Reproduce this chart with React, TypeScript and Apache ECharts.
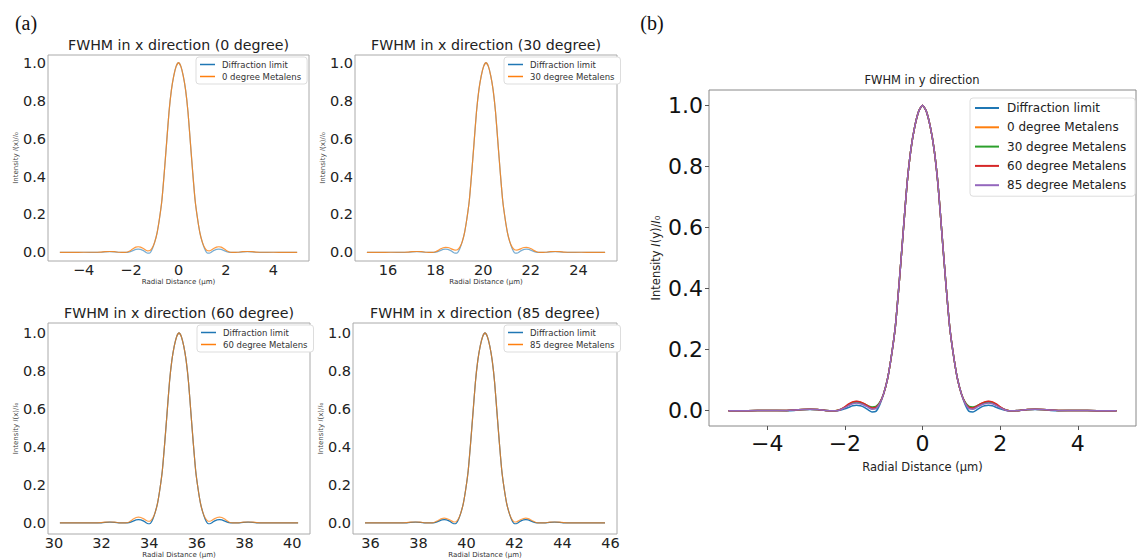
import React, { useEffect, useRef } from "react";
import * as echarts from "echarts";

// radial offsets (µm) relative to each focal spot centre
const dx = [
  -5, -4.5, -4, -3.5, -3.3, -3.1, -2.9, -2.7, -2.5, -2.3,
  -2.2, -2.1, -2.0, -1.9, -1.8, -1.7, -1.6, -1.5, -1.4, -1.3, -1.2, -1.1,
  -1.0, -0.9, -0.8, -0.7, -0.6, -0.5, -0.4, -0.3, -0.2, -0.1, 0, 0.1, 0.2, 0.3, 0.4, 0.5, 0.6, 0.7, 0.8, 0.9, 1.0,
  1.1, 1.2, 1.3, 1.4, 1.5, 1.6, 1.7, 1.8, 1.9, 2.0, 2.1, 2.2,
  2.3, 2.5, 2.7, 2.9, 3.1, 3.3, 3.5, 4, 4.5, 5,
];

const diffractionLimit = [
  0, 0, 0.001, 0, 0.001, 0.003, 0.004, 0.003, 0.001, 0,
  0, 0.002, 0.006, 0.011, 0.016, 0.018, 0.016, 0.011, 0.003, -0.004, -0.002, 0.02,
  0.056, 0.105, 0.18, 0.275, 0.42, 0.58, 0.74, 0.855, 0.93, 0.98, 1.0, 0.98, 0.93, 0.855, 0.74, 0.58, 0.42, 0.275, 0.18, 0.105, 0.056,
  0.02, -0.002, -0.004, 0.003, 0.011, 0.016, 0.018, 0.016, 0.011, 0.006, 0.002, 0,
  0, 0.001, 0.003, 0.004, 0.003, 0.001, 0, 0.001, 0, 0,
];

const metalens0 = [
  0, 0, 0.001, 0.001, 0.002, 0.004, 0.005, 0.004, 0.001, 0,
  0.001, 0.005, 0.012, 0.021, 0.028, 0.03, 0.028, 0.022, 0.014, 0.008, 0.01, 0.026,
  0.056, 0.105, 0.18, 0.275, 0.42, 0.58, 0.74, 0.855, 0.93, 0.98, 1.0, 0.98, 0.93, 0.855, 0.74, 0.58, 0.42, 0.275, 0.18, 0.105, 0.056,
  0.026, 0.01, 0.008, 0.014, 0.022, 0.028, 0.03, 0.028, 0.021, 0.012, 0.005, 0.001,
  0, 0.001, 0.004, 0.005, 0.004, 0.002, 0.001, 0.001, 0, 0,
];

const metalens30 = [
  0, 0, 0.001, 0.001, 0.002, 0.004, 0.005, 0.004, 0.001, 0,
  0.001, 0.005, 0.011, 0.019, 0.025, 0.027, 0.026, 0.022, 0.016, 0.012, 0.014, 0.028,
  0.056, 0.105, 0.18, 0.275, 0.42, 0.58, 0.74, 0.855, 0.93, 0.98, 1.0, 0.98, 0.93, 0.855, 0.74, 0.58, 0.42, 0.275, 0.18, 0.105, 0.056,
  0.028, 0.014, 0.012, 0.016, 0.022, 0.026, 0.027, 0.025, 0.019, 0.011, 0.005, 0.001,
  0, 0.001, 0.004, 0.005, 0.004, 0.002, 0.001, 0.001, 0, 0,
];

const metalens60 = [
  0, 0, 0.001, 0.001, 0.002, 0.004, 0.005, 0.004, 0.001, 0,
  0.001, 0.005, 0.013, 0.022, 0.029, 0.031, 0.029, 0.023, 0.015, 0.009, 0.011, 0.026,
  0.056, 0.105, 0.18, 0.275, 0.42, 0.58, 0.74, 0.855, 0.93, 0.98, 1.0, 0.98, 0.93, 0.855, 0.74, 0.58, 0.42, 0.275, 0.18, 0.105, 0.056,
  0.026, 0.011, 0.009, 0.015, 0.023, 0.029, 0.031, 0.029, 0.022, 0.013, 0.005, 0.001,
  0, 0.001, 0.004, 0.005, 0.004, 0.002, 0.001, 0.001, 0, 0,
];

const metalens85 = [
  0, 0, 0.001, 0.001, 0.002, 0.004, 0.005, 0.004, 0.001, 0,
  0, 0.004, 0.01, 0.017, 0.023, 0.025, 0.023, 0.018, 0.011, 0.005, 0.007, 0.024,
  0.056, 0.105, 0.18, 0.275, 0.42, 0.58, 0.74, 0.855, 0.93, 0.98, 1.0, 0.98, 0.93, 0.855, 0.74, 0.58, 0.42, 0.275, 0.18, 0.105, 0.056,
  0.024, 0.007, 0.005, 0.011, 0.018, 0.023, 0.025, 0.023, 0.017, 0.01, 0.004, 0,
  0, 0.001, 0.004, 0.005, 0.004, 0.002, 0.001, 0.001, 0, 0,
];

// focal spot centres for panel (a)
const centers = [0, 20.12, 35.25, 40.77];
const angles = ["0", "30", "60", "85"];
const xRanges = [
  [-5.5, 5.5],
  [14.62, 25.62],
  [29.75, 40.75],
  [35.27, 46.27],
];
const xTicks = [
  [-4, -2, 0, 2, 4],
  [16, 18, 20, 22, 24],
  [30, 32, 34, 36, 38, 40],
  [36, 38, 40, 42, 44, 46],
];
const yTicks = [0, 0.2, 0.4, 0.6, 0.8, 1.0];
const bTicks = [-4, -2, 0, 2, 4];

const COLORS = ["#1f77b4", "#ff7f0e", "#2ca02c", "#d62728", "#9467bd"];
const FONT = "DejaVu Sans";

const fmtX = (v: number) => (v < 0 ? "\u2212" + Math.abs(v) : String(v));
const fmtY = (v: number) => v.toFixed(1);

export default function App() {
  const ref = useRef<HTMLDivElement>(null);

  useEffect(() => {
    if (!ref.current) return;
    const chart = echarts.init(ref.current, null, { renderer: "svg" });

    const metalensByAngle = [metalens0, metalens30, metalens60, metalens85];
    const gridsA = [
      { left: 48, top: 55, width: 261, height: 206 },
      { left: 355, top: 55, width: 262, height: 206 },
      { left: 48, top: 323, width: 262, height: 212 },
      { left: 353, top: 323, width: 264, height: 212 },
    ];
    const yRangesA = [
      [-0.045, 1.04],
      [-0.045, 1.04],
      [-0.058, 1.052],
      [-0.058, 1.052],
    ];
    const grid: any[] = gridsA.map((g) => ({
      ...g,
      show: true,
      borderColor: "#aaa",
      borderWidth: 1,
      backgroundColor: "transparent",
    }));
    grid.push({ left: 709, top: 90, width: 427, height: 336, show: true, borderColor: "#888", borderWidth: 1 });

    const xAxis: any[] = [];
    const yAxis: any[] = [];
    const series: any[] = [];
    const legend: any[] = [];
    const graphic: any[] = [];

    for (let k = 0; k < 4; k++) {
      xAxis.push({
        type: "value",
        gridIndex: k,
        min: xRanges[k][0],
        max: xRanges[k][1],
        axisLine: { show: false, onZero: false },
        axisTick: { show: false },
        splitLine: { show: false },
        axisLabel: {
          customValues: xTicks[k],
          formatter: fmtX,
          fontSize: 14.5,
          fontFamily: FONT,
          color: "#222",
          margin: 1,
        },
        name: "Radial Distance (μm)",
        nameLocation: "middle",
        nameGap: 17,
        nameTextStyle: { fontSize: 7, fontFamily: FONT, color: "#333", verticalAlign: "top" },
      });
      yAxis.push({
        type: "value",
        gridIndex: k,
        min: yRangesA[k][0],
        max: yRangesA[k][1],
        axisLine: { show: false, onZero: false },
        axisTick: { show: false },
        splitLine: { show: false },
        axisLabel: {
          customValues: yTicks,
          formatter: fmtY,
          fontSize: 14.5,
          fontFamily: FONT,
          color: "#222",
          margin: 2,
        },
        name: "Intensity {i|I}(x)/{i|I}\u2080",
        nameLocation: "middle",
        nameRotate: 90,
        nameGap: 29,
        nameTextStyle: {
          fontSize: 7,
          fontFamily: FONT,
          color: "#444",
          rich: { i: { fontSize: 7, fontStyle: "italic", fontFamily: FONT, color: "#444" } },
        },
      });
      const mlName = angles[k] + " degree Metalens";
      series.push({
        type: "line",
        name: "Diffraction limit",
        xAxisIndex: k,
        yAxisIndex: k,
        data: dx.map((d, i) => [centers[k] + d, diffractionLimit[i]]),
        showSymbol: false,
        smooth: 0.2,
        color: COLORS[0],
        lineStyle: { width: 1.2, color: COLORS[0], opacity: k < 2 ? 0.6 : 1 },
      });
      series.push({
        type: "line",
        name: mlName,
        xAxisIndex: k,
        yAxisIndex: k,
        data: dx.map((d, i) => [centers[k] + d, metalensByAngle[k][i]]),
        showSymbol: false,
        smooth: 0.2,
        color: COLORS[1],
        lineStyle: { width: 1.2, color: COLORS[1], opacity: k < 2 ? 0.8 : 0.75 },
      });
      const g = gridsA[k];
      legend.push({
        data: ["Diffraction limit", mlName],
        orient: "vertical",
        left: g.left + g.width - 113,
        top: g.top + 2,
        icon: "rect",
        itemWidth: 15,
        itemHeight: 1.5,
        itemGap: 3,
        padding: [3, 6, 3, 4],
        borderColor: "#ddd",
        borderWidth: 1,
        borderRadius: 3,
        backgroundColor: "#fff",
        selectedMode: false,
        textStyle: { fontSize: 8.5, fontFamily: FONT, color: "#333", padding: [0, 0, 0, 2] },
      });
      graphic.push({
        type: "text",
        x: g.left + g.width / 2,
        y: g.top - 10,
        style: {
          text: "FWHM in x direction (" + angles[k] + " degree)",
          fontSize: 14.2,
          fontFamily: FONT,
          fill: "#222",
          textAlign: "center",
          textVerticalAlign: "middle",
        },
      });
    }

    // panel (b)
    xAxis.push({
      type: "value",
      gridIndex: 4,
      min: -5.5,
      max: 5.5,
      axisLine: { show: false, onZero: false },
      axisTick: { show: true, customValues: bTicks, length: 4, lineStyle: { color: "#555" } },
      splitLine: { show: false },
      axisLabel: {
        customValues: bTicks,
        formatter: fmtX,
        fontSize: 22,
        fontFamily: FONT,
        color: "#111",
        margin: 6,
      },
      name: "Radial Distance (μm)",
      nameLocation: "middle",
      nameGap: 35,
      nameTextStyle: { fontSize: 11.5, fontFamily: FONT, color: "#222", verticalAlign: "top" },
    });
    yAxis.push({
      type: "value",
      gridIndex: 4,
      min: -0.05,
      max: 1.05,
      axisLine: { show: false, onZero: false },
      axisTick: { show: true, customValues: yTicks, length: 4, lineStyle: { color: "#555" } },
      splitLine: { show: false },
      axisLabel: {
        customValues: yTicks,
        formatter: fmtY,
        fontSize: 22,
        fontFamily: FONT,
        color: "#111",
        margin: 6,
      },
      name: "Intensity {i|I}(y)/{i|I}\u2080",
      nameLocation: "middle",
      nameRotate: 90,
      nameGap: 47,
      nameTextStyle: {
        fontSize: 11.5,
        fontFamily: FONT,
        color: "#222",
        rich: { i: { fontSize: 11.5, fontStyle: "italic", fontFamily: FONT, color: "#222" } },
      },
    });
    const bSeries = [
      ["Diffraction limit", diffractionLimit],
      ["0 degree Metalens", metalens0],
      ["30 degree Metalens", metalens30],
      ["60 degree Metalens", metalens60],
      ["85 degree Metalens", metalens85],
    ] as [string, number[]][];
    const bNames: string[] = [];
    bSeries.forEach(([name, arr], j) => {
      const nm = name + " ";
      bNames.push(nm);
      series.push({
        type: "line",
        name: nm,
        xAxisIndex: 4,
        yAxisIndex: 4,
        data: dx.map((d, i) => [d, arr[i]]),
        showSymbol: false,
        smooth: 0.2,
        color: COLORS[j],
        lineStyle: { width: 1.5, color: COLORS[j] },
      });
    });
    legend.push({
      data: bNames,
      orient: "vertical",
      left: 970,
      top: 98,
      icon: "rect",
      itemWidth: 24,
      itemHeight: 2,
      itemGap: 7.3,
      padding: [4, 5, 5, 5],
      borderColor: "#ddd",
      borderWidth: 1,
      borderRadius: 3,
      backgroundColor: "#fff",
      selectedMode: false,
      textStyle: { fontSize: 12, fontFamily: FONT, color: "#222", padding: [0, 0, 0, 3] },
    });
    graphic.push({
      type: "text",
      x: 922,
      y: 80,
      style: {
        text: "FWHM in y direction",
        fontSize: 11.5,
        fontFamily: FONT,
        fill: "#222",
        textAlign: "center",
        textVerticalAlign: "middle",
      },
    });
    graphic.push({
      type: "text",
      x: 26,
      y: 23,
      style: { text: "(a)", fontSize: 20, fontFamily: "Liberation Serif", fill: "#111", textAlign: "center", textVerticalAlign: "middle" },
    });
    graphic.push({
      type: "text",
      x: 652,
      y: 23,
      style: { text: "(b)", fontSize: 20, fontFamily: "Liberation Serif", fill: "#111", textAlign: "center", textVerticalAlign: "middle" },
    });

    chart.setOption({
      animation: false,
      backgroundColor: "#fff",
      grid,
      xAxis,
      yAxis,
      series,
      legend,
      graphic,
    });
    return () => chart.dispose();
  }, []);

  return (
    <div
      ref={ref}
      style={{ position: "fixed", left: 0, top: 0, width: 1138, height: 559, background: "#fff" }}
    />
  );
}
